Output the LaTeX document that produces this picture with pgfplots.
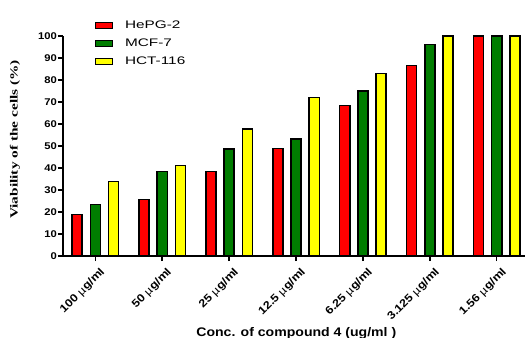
\documentclass[border=0pt]{standalone}
\usepackage{pgfplots}
\pgfplotsset{compat=1.18}
\usepackage{fontspec}
\setmainfont{Liberation Sans}
\newfontfamily\timesfont{Liberation Serif}
\definecolor{gr}{RGB}{0,125,0}
\definecolor{yl}{RGB}{255,255,0}
\newcommand{\mug}{{\mdseries µ}}
\newcommand{\xl}[1]{\scalebox{1.15}[1]{#1}}
\begin{document}
\begin{tikzpicture}
\path[use as bounding box] (-63bp,-82bp) rectangle (465bp,256bp);
\begin{axis}[
  at={(0,0)}, anchor=south west,
  scale only axis, width=462bp, height=220bp,
  xmin=-0.48, xmax=6.42, ymin=0, ymax=100,
  axis x line*=bottom, axis y line*=left,
  axis line style={line width=1.6pt},
  ybar, bar width=0.15,
  ytick={0,10,...,100},
  yticklabel={\scalebox{1.15}[1]{\pgfmathprintnumber{\tick}}},
  xtick={0,...,6},
  xticklabels={\xl{100 \mug g/ml},\xl{50 \mug g/ml},\xl{25 \mug g/ml},\xl{12.5 \mug g/ml},\xl{6.25 \mug g/ml},\xl{3.125 \mug g/ml},\xl{1.56 \mug g/ml}},
  x tick label style={rotate=45, anchor=north east, font=\fontsize{11}{11}\selectfont\bfseries, inner sep=1pt, yshift=-6bp, xshift=0bp},
  y tick label style={font=\fontsize{9.8}{10}\selectfont\bfseries, inner sep=1pt},
  /pgf/number format/assume math mode=true,
  tick style={line width=1.2pt, black},
  major tick length=5bp,
  tick align=outside,
  xtick pos=bottom, ytick pos=left,
  ylabel={\scalebox{1.4}[1]{\timesfont\bfseries Viability of the cells (\%)}},
  ylabel style={font=\fontsize{11}{12}\selectfont, at={(axis description cs:-0.104,0.53)}, anchor=center},
  xlabel={\scalebox{1.13}[1]{Conc. of compound 4 (ug/ml )}},
  xlabel style={font=\fontsize{12.5}{13}\selectfont\bfseries, at={(axis description cs:0.505,-0.35)}, anchor=center},
  legend style={at={(0.069,1.075)}, anchor=north west, draw=none, fill=none,
    font=\fontsize{11}{12}\selectfont, row sep=7pt, inner sep=0pt,
    nodes={inner sep=1pt}},
  legend cell align=left,
  legend image code/.code={\draw[#1, line width=1.2pt] (0cm,-0.11cm) rectangle (0.6cm,0.11cm); \path (0.98cm,0);},
  every axis plot/.append style={draw=black, line width=1.2pt},
]
\addplot[fill=red, bar shift=-0.27] coordinates {(0,19) (1,25.5) (2,38.3) (3,48.7) (4,68.3) (5,86.7) (6,100)};
\addplot[fill=gr, bar shift=0] coordinates {(0,23.3) (1,38.3) (2,48.6) (3,53.2) (4,75) (5,96) (6,100)};
\addplot[fill=yl, bar shift=0.27] coordinates {(0,34) (1,41.3) (2,57.7) (3,72) (4,83) (5,100) (6,100)};
\legend{\scalebox{1.4}[1]{HePG-2},\scalebox{1.4}[1]{MCF-7},\scalebox{1.4}[1]{HCT-116}}
\end{axis}
\end{tikzpicture}
\end{document}
